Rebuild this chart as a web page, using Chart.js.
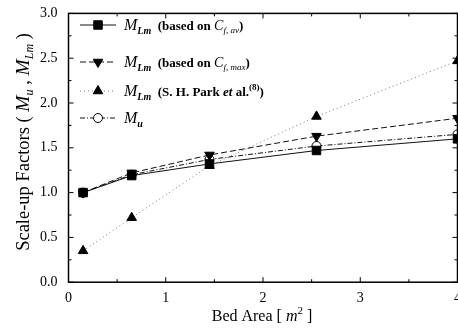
<!DOCTYPE html>
<html>
<head>
<meta charset="utf-8">
<script src="https://cdn.jsdelivr.net/npm/chart.js@4/dist/chart.umd.min.js"></script>
<style>
  html, body { margin: 0; padding: 0; background: #fff; overflow: hidden; }
  canvas { display: block; margin-top: -6px; }
</style>
</head>
<body>
<canvas id="chart" width="469" height="335"></canvas>
<script>
// data
const bedArea = [0.15, 0.65, 1.45, 2.55, 4.0];
const mlmAvg  = [1.00, 1.19, 1.32, 1.47, 1.60];
const mlmMax  = [1.00, 1.22, 1.42, 1.63, 1.83];
const mlmPark = [0.35, 0.72, 1.30, 1.85, 2.47];
const muVals  = [1.00, 1.20, 1.37, 1.52, 1.65];

const xTicks = [0, 1, 2, 3, 4];
const yTicks = [0.0, 0.5, 1.0, 1.5, 2.0, 2.5, 3.0];

const SERIF = '"Liberation Serif", "DejaVu Serif", serif';
const SHIFT = 6; // canvas is pulled up by this much so 3.0 sits near the top edge

const pts = (ys) => bedArea.map((x, i) => ({ x: x, y: ys[i] }));

// series styles (shared with the hand drawn legend)
const series = [
    { data: mlmAvg, style: 'rect', radius: 6, rotation: 0, fill: '#000', dash: [], color: '#111' },
    { data: mlmMax, style: 'triangle', radius: 5.5, rotation: 180, fill: '#000', dash: [6, 3], color: '#111' },
    { data: mlmPark, style: 'triangle', radius: 5.5, rotation: 0, fill: '#000', dash: [1, 3], color: '#777' },
    { data: muVals, style: 'circle', radius: 4.5, rotation: 0, fill: '#fff', dash: [5, 2, 1, 2], color: '#111' }
];

// rich text pieces for legend and axis titles: [text, font, baseline shift]
const legendText = [
    [['M', 'italic 16px ' + SERIF, 0], ['Lm', 'italic bold 10px ' + SERIF, 4], ['  (based on ', 'bold 13px ' + SERIF, 0],
     ['C', 'italic 14px ' + SERIF, 0], ['f, av', 'italic 9px ' + SERIF, 3], [')', 'bold 13px ' + SERIF, 0]],
    [['M', 'italic 16px ' + SERIF, 0], ['Lm', 'italic bold 10px ' + SERIF, 4], ['  (based on ', 'bold 13px ' + SERIF, 0],
     ['C', 'italic 14px ' + SERIF, 0], ['f, max', 'italic 9px ' + SERIF, 3], [')', 'bold 13px ' + SERIF, 0]],
    [['M', 'italic 16px ' + SERIF, 0], ['Lm', 'italic bold 10px ' + SERIF, 4], ['  (S. H. Park ', 'bold 13px ' + SERIF, 0],
     ['et', 'italic bold 13px ' + SERIF, 0], [' al.', 'bold 13px ' + SERIF, 0], ['(8)', 'bold 9px ' + SERIF, -6], [')', 'bold 13px ' + SERIF, 0]],
    [['M', 'italic 16px ' + SERIF, 0], ['u', 'italic bold 10px ' + SERIF, 4]]
];
const yTitle = [['Scale-up Factors ( ', '18.5px ' + SERIF, 0], ['M', 'italic 19.5px ' + SERIF, 0], ['u', 'italic 12px ' + SERIF, 4],
    [' , ', '18.5px ' + SERIF, 0], ['M', 'italic 19.5px ' + SERIF, 0], ['Lm', 'italic 12px ' + SERIF, 4], [' )', '18.5px ' + SERIF, 0]];
const xTitle = [['Bed Area [ ', '16px ' + SERIF, 0], ['m', 'italic 16px ' + SERIF, 0], ['2', '11px ' + SERIF, -7], [' ]', '16px ' + SERIF, 0]];

const drawRich = (ctx, parts, x, y, align) => {
    let w = 0;
    parts.forEach(p => { ctx.font = p[1]; w += ctx.measureText(p[0]).width; });
    let cx = align === 'center' ? x - w / 2 : x;
    ctx.textAlign = 'left';
    ctx.textBaseline = 'alphabetic';
    parts.forEach(p => {
        ctx.font = p[1];
        ctx.fillText(p[0], cx, y + p[2]);
        cx += ctx.measureText(p[0]).width;
    });
};

const decorations = {
    id: 'decorations',
    afterDraw(chart) {
        const ctx = chart.ctx;
        const a = chart.chartArea;
        const xs = chart.scales.x, ys = chart.scales.y;
        ctx.save();
        ctx.strokeStyle = '#000';
        ctx.fillStyle = '#000';
        // frame
        ctx.lineWidth = 1.5;
        ctx.setLineDash([]);
        ctx.strokeRect(a.left, a.top, a.right - a.left, a.bottom - a.top);
        // inward ticks
        ctx.lineWidth = 1;
        ctx.beginPath();
        for (let v = 0; v <= 4.001; v += 0.5) {
            const px = xs.getPixelForValue(v);
            const len = Math.abs(v - Math.round(v)) < 0.01 ? 5 : 3;
            ctx.moveTo(px, a.bottom); ctx.lineTo(px, a.bottom - len);
            ctx.moveTo(px, a.top); ctx.lineTo(px, a.top + len);
        }
        for (let v = 0; v <= 3.001; v += 0.25) {
            const py = ys.getPixelForValue(v);
            const len = Math.abs(v * 2 - Math.round(v * 2)) < 0.01 ? 5 : 3;
            ctx.moveTo(a.left, py); ctx.lineTo(a.left + len, py);
            ctx.moveTo(a.right, py); ctx.lineTo(a.right - len, py);
        }
        ctx.stroke();

        // axis titles
        ctx.fillStyle = '#000';
        drawRich(ctx, xTitle, (a.left + a.right) / 2 - 1, 321 + SHIFT, 'center');
        ctx.save();
        ctx.translate(29, 142 + SHIFT);
        ctx.rotate(-Math.PI / 2);
        drawRich(ctx, yTitle, 0, 0, 'center');
        ctx.restore();

        // legend
        const rowsY = [25, 62, 91, 118];
        series.forEach((s, i) => {
            const y = rowsY[i] + SHIFT;
            ctx.strokeStyle = s.color;
            ctx.lineWidth = 1;
            ctx.setLineDash(s.dash);
            ctx.beginPath();
            ctx.moveTo(80, y); ctx.lineTo(116, y);
            ctx.stroke();
            ctx.setLineDash([]);
            ctx.fillStyle = s.fill;
            ctx.strokeStyle = '#000';
            Chart.helpers.drawPoint(ctx, { pointStyle: s.style, radius: s.radius, rotation: s.rotation, borderWidth: 1 }, 98, y);
            ctx.fillStyle = '#000';
            drawRich(ctx, legendText[i], 124, y + 5, 'left');
        });
        ctx.restore();
    }
};

new Chart(document.getElementById('chart'), {
    type: 'scatter',
    data: {
        datasets: series.map(s => ({
            data: pts(s.data),
            showLine: true,
            borderColor: s.color,
            borderWidth: 1,
            borderDash: s.dash,
            pointStyle: s.style,
            pointRotation: s.rotation,
            pointRadius: s.radius,
            pointBackgroundColor: s.fill,
            pointBorderColor: '#000',
            pointBorderWidth: 1,
            clip: false
        }))
    },
    options: {
        responsive: false,
        animation: false,
        devicePixelRatio: 1,
        layout: { padding: { left: 29, right: 0, top: 0, bottom: 14 } },
        plugins: { legend: { display: false }, tooltip: { enabled: false } },
        scales: {
            x: {
                type: 'linear', min: 0, max: 4,
                afterBuildTicks: (scale) => { scale.ticks = xTicks.map(v => ({ value: v })); },
                ticks: { color: '#000', font: { family: SERIF, size: 14 }, padding: 8, callback: v => String(v) },
                grid: { display: false, drawTicks: false },
                border: { display: false }
            },
            y: {
                type: 'linear', min: 0, max: 3,
                afterBuildTicks: (scale) => { scale.ticks = yTicks.map(v => ({ value: v })); },
                ticks: { color: '#000', font: { family: SERIF, size: 14 }, padding: 11, callback: v => v.toFixed(1) },
                grid: { display: false, drawTicks: false },
                border: { display: false }
            }
        }
    },
    plugins: [decorations]
});
</script>
</body>
</html>
